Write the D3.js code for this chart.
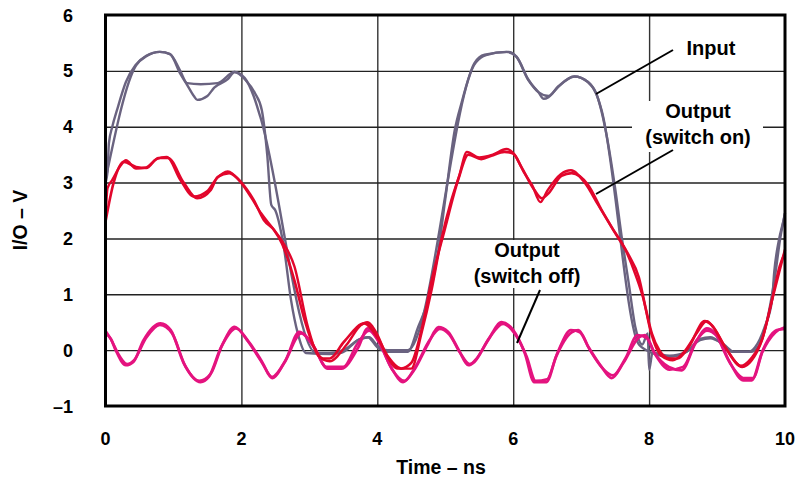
<!DOCTYPE html>
<html>
<head>
<meta charset="utf-8">
<script src="https://cdn.jsdelivr.net/npm/d3@7"></script>
<style>
  body { margin: 0; background: #fff; }
  svg { display: block; font-family: "Liberation Sans", Arial, sans-serif; font-weight: bold; }
</style>
</head>
<body>
<svg width="798" height="479"></svg>
<script>
// [time ns, volts], two captures per signal
const inputA = [[0,3.05],[0.45,5.1],[0.6,5.26],[0.8,5.34],[0.95,5.3],[1.1,5.0],[1.2,4.78],[1.4,4.76],[1.65,4.78],[1.9,4.98],[2.05,4.87],[2.18,4.55],[2.28,4.17],[3.1,-0.05],[3.3,-0.05],[3.5,0.0],[3.75,0.2],[3.88,0.23],[4.0,0.08],[4.15,0.0],[4.45,0.0],[5.45,5.15],[5.6,5.28],[5.9,5.34],[6.05,5.25],[6.22,4.85],[6.37,4.62],[6.52,4.55],[6.66,4.72],[6.9,4.9],[7.1,4.8],[7.22,4.6],[7.3,4.3],[7.85,0.1],[8.05,-0.05],[8.3,-0.12],[8.55,-0.03],[8.75,0.18],[8.9,0.21],[9.1,0.1],[9.25,-0.03],[9.5,-0.03],[9.6,0.05],[9.72,0.45],[9.85,1.3],[9.93,2.0],[10,2.45]];
const inputB = [[0,3.0],[0.03,3.2],[0.05,3.7],[0.1,4.0],[0.17,4.3],[0.3,4.8],[0.44,5.1],[0.6,5.27],[0.8,5.34],[0.95,5.3],[1.1,4.95],[1.2,4.75],[1.3,4.55],[1.35,4.48],[1.5,4.55],[1.6,4.7],[1.8,4.85],[1.9,4.98],[2.05,4.85],[2.2,4.6],[2.3,4.3],[2.38,3.5],[2.44,2.6],[2.5,2.5],[2.63,1.8],[2.73,0.9],[2.83,0.3],[2.95,-0.05],[3.3,-0.07],[3.47,-0.05],[3.72,0.18],[3.86,0.23],[4.0,0.05],[4.15,-0.03],[4.45,-0.03],[4.6,0.41],[4.75,0.9],[4.9,1.8],[5.0,2.7],[5.14,3.94],[5.24,4.43],[5.43,5.14],[5.58,5.29],[5.93,5.34],[6.05,5.25],[6.22,4.84],[6.37,4.62],[6.45,4.5],[6.52,4.53],[6.66,4.71],[6.9,4.9],[7.1,4.8],[7.25,4.5],[7.35,4.0],[7.5,2.9],[7.6,2.0],[7.7,1.2],[7.8,0.4],[7.9,0.1],[7.98,0.3],[8.0,-0.35],[8.05,-0.05],[8.3,-0.1],[8.55,-0.03],[8.75,0.2],[8.9,0.23],[9.07,0.12],[9.22,-0.03],[9.47,-0.03],[9.56,0.05],[9.7,0.41],[9.81,0.9],[9.84,1.38],[9.91,1.97],[9.98,2.33],[10,2.45]];

const onA = [[0,2.3],[0.12,3.0],[0.27,3.37],[0.45,3.28],[0.6,3.26],[0.78,3.44],[0.92,3.44],[1.15,3.0],[1.35,2.72],[1.55,2.87],[1.65,3.1],[1.82,3.17],[2.0,3.0],[2.18,2.69],[2.33,2.33],[2.48,2.15],[2.6,1.9],[2.78,1.25],[2.93,0.54],[3.07,0.05],[3.2,-0.15],[3.3,-0.15],[3.51,0.15],[3.81,0.48],[4.0,0.23],[4.16,-0.12],[4.35,-0.33],[4.5,-0.23],[4.65,0.36],[4.8,1.25],[4.99,2.15],[5.19,3.05],[5.34,3.5],[5.53,3.42],[5.68,3.48],[5.87,3.55],[6.0,3.52],[6.12,3.28],[6.31,2.87],[6.42,2.72],[6.52,2.81],[6.71,3.12],[6.86,3.17],[7.1,2.96],[7.3,2.51],[7.5,2.1],[7.7,1.7],[7.85,1.3],[7.95,0.75],[8.04,0.3],[8.15,0.0],[8.3,-0.15],[8.42,-0.15],[8.58,0.05],[8.82,0.52],[8.92,0.45],[9.12,0.05],[9.37,-0.3],[9.51,-0.18],[9.66,0.18],[9.81,0.9],[9.91,1.38],[10,1.8]];
const onB = [[0,2.35],[0.03,2.9],[0.1,3.05],[0.22,3.3],[0.3,3.4],[0.45,3.25],[0.6,3.27],[0.75,3.42],[0.9,3.46],[1.1,3.05],[1.3,2.75],[1.5,2.85],[1.62,3.05],[1.8,3.2],[1.98,3.02],[2.15,2.72],[2.29,2.45],[2.45,2.2],[2.6,1.95],[2.78,1.5],[2.98,0.41],[3.13,-0.1],[3.3,-0.2],[3.55,0.1],[3.76,0.45],[3.85,0.5],[4.0,0.28],[4.12,-0.05],[4.3,-0.33],[4.5,-0.33],[4.65,0.3],[4.8,1.08],[4.94,1.97],[5.09,2.69],[5.2,3.1],[5.32,3.55],[5.5,3.45],[5.7,3.5],[5.9,3.6],[6.02,3.5],[6.15,3.2],[6.28,2.95],[6.4,2.65],[6.5,2.85],[6.7,3.15],[6.85,3.22],[7.05,3.0],[7.25,2.6],[7.45,2.2],[7.65,1.8],[7.8,1.35],[7.92,0.9],[8.02,0.35],[8.18,-0.1],[8.35,-0.18],[8.5,-0.05],[8.7,0.3],[8.85,0.52],[8.95,0.4],[9.15,0.0],[9.35,-0.28],[9.5,-0.15],[9.68,0.25],[9.8,0.85],[9.92,1.5],[10,1.75]];

const offA = [[0,0.3],[0.08,0.2],[0.15,0.0],[0.3,-0.27],[0.41,-0.21],[0.56,0.18],[0.81,0.48],[0.96,0.36],[1.15,-0.23],[1.4,-0.57],[1.52,-0.48],[1.7,0.05],[1.92,0.39],[2.09,0.18],[2.29,-0.18],[2.46,-0.5],[2.63,-0.23],[2.88,0.3],[3.07,0.05],[3.27,-0.33],[3.47,-0.33],[3.72,0.05],[3.86,0.39],[4.0,0.21],[4.2,-0.3],[4.38,-0.57],[4.54,-0.36],[4.75,0.12],[4.9,0.41],[5.04,0.33],[5.2,0.0],[5.34,-0.27],[5.43,-0.21],[5.63,0.18],[5.83,0.5],[6.0,0.36],[6.17,-0.05],[6.31,-0.57],[6.49,-0.57],[6.63,-0.12],[6.86,0.32],[6.96,0.36],[7.11,0.05],[7.3,-0.3],[7.45,-0.5],[7.62,-0.23],[7.85,0.23],[7.94,0.27],[8.08,-0.05],[8.29,-0.3],[8.48,-0.36],[8.68,0.12],[8.85,0.39],[8.97,0.3],[9.17,-0.18],[9.39,-0.54],[9.51,-0.54],[9.66,-0.05],[9.86,0.32],[10,0.41]];
const offB = [[0,0.35],[0.1,0.15],[0.18,-0.05],[0.32,-0.25],[0.42,-0.18],[0.6,0.22],[0.8,0.45],[0.98,0.3],[1.18,-0.3],[1.38,-0.55],[1.55,-0.42],[1.72,0.1],[1.9,0.42],[2.1,0.15],[2.3,-0.22],[2.45,-0.48],[2.65,-0.18],[2.85,0.33],[3.05,0.1],[3.25,-0.3],[3.5,-0.3],[3.7,0.1],[3.88,0.35],[4.02,0.15],[4.22,-0.35],[4.4,-0.55],[4.56,-0.3],[4.77,0.18],[4.92,0.38],[5.06,0.28],[5.22,-0.05],[5.36,-0.25],[5.46,-0.15],[5.65,0.22],[5.85,0.47],[6.02,0.3],[6.2,-0.12],[6.33,-0.55],[6.5,-0.52],[6.65,-0.05],[6.85,0.36],[6.98,0.32],[7.13,0.0],[7.32,-0.33],[7.47,-0.45],[7.65,-0.15],[7.83,0.27],[7.96,0.22],[8.1,-0.1],[8.3,-0.35],[8.5,-0.3],[8.7,0.18],[8.85,0.35],[9.0,0.25],[9.2,-0.25],[9.4,-0.5],[9.53,-0.5],[9.68,0.02],[9.88,0.36],[10,0.38]];

const xTicks = [0, 2, 4, 6, 8, 10];
const yTicks = [-1, 0, 1, 2, 3, 4, 5, 6];

const svg = d3.select("svg");

const x = d3.scaleLinear().domain([0, 10]).range([105.5, 785]);
const y = d3.scaleLinear().domain([-1, 6]).range([406, 15]);

const plotLeft = x(0), plotRight = x(10), plotTop = y(6), plotBottom = y(-1);

// grid
svg.append("g")
    .attr("transform", `translate(0,${plotBottom})`)
    .call(d3.axisBottom(x).tickValues([2, 4, 6, 8]).tickSize(-(plotBottom - plotTop)).tickFormat(""))
    .call(g => g.select(".domain").remove())
    .call(g => g.selectAll("line").attr("stroke", "#333").attr("stroke-width", 1.4));

svg.append("g")
    .attr("transform", `translate(${plotLeft},0)`)
    .call(d3.axisLeft(y).tickValues([0, 1, 2, 3, 4, 5]).tickSize(-(plotRight - plotLeft)).tickFormat(""))
    .call(g => g.select(".domain").remove())
    .call(g => g.selectAll("line").attr("stroke", "#222").attr("stroke-width", 1.4));

// white boxes behind the callout text
svg.append("rect").attr("x", 632).attr("y", 101).attr("width", 131).attr("height", 51).attr("fill", "#fff");
svg.append("rect").attr("x", 470).attr("y", 240).attr("width", 116).attr("height", 48).attr("fill", "#fff");

const line = d3.line()
    .curve(d3.curveMonotoneX)
    .x(d => x(d[0]))
    .y(d => y(d[1]));

const traces = [
  { data: inputA, color: "#6a6380", w: 2.4 },
  { data: inputB, color: "#6a6380", w: 2.4 },
  { data: offA, color: "#e4137f", w: 2.8 },
  { data: offB, color: "#e4137f", w: 2.6 },
  { data: onA, color: "#e2062c", w: 2.6 },
  { data: onB, color: "#e2062c", w: 2.4 }
];

svg.append("g")
    .selectAll("path")
    .data(traces)
    .enter().append("path")
    .attr("d", d => line(d.data))
    .attr("fill", "none")
    .attr("stroke", d => d.color)
    .attr("stroke-width", d => d.w)
    .attr("stroke-linejoin", "round");

// frame
svg.append("rect")
    .attr("x", plotLeft).attr("y", plotTop)
    .attr("width", plotRight - plotLeft).attr("height", plotBottom - plotTop)
    .attr("fill", "none").attr("stroke", "#000").attr("stroke-width", 3);

// tick labels
svg.append("g")
    .selectAll("text")
    .data(xTicks)
    .enter().append("text")
    .attr("x", d => x(d))
    .attr("y", 445)
    .attr("text-anchor", "middle")
    .attr("font-size", 18)
    .text(d => d);

svg.append("g")
    .selectAll("text")
    .data(yTicks)
    .enter().append("text")
    .attr("x", 73)
    .attr("y", d => y(d) + 6.5)
    .attr("text-anchor", "end")
    .attr("font-size", 18)
    .text(d => d < 0 ? "\u2013" + Math.abs(d) : d);

// axis titles
svg.append("text")
    .attr("x", 441).attr("y", 474)
    .attr("text-anchor", "middle")
    .attr("font-size", 19.5)
    .text("Time \u2013 ns");

svg.append("text")
    .attr("transform", "translate(27,220) rotate(-90)")
    .attr("text-anchor", "middle")
    .attr("font-size", 19.5)
    .text("I/O \u2013 V");

// callouts
const callouts = [
  { lines: ["Input"], cx: 711, y0: 55, from: [673, 50], to: [596, 94] },
  { lines: ["Output", "(switch on)"], cx: 698, y0: 118, from: [673, 150], to: [596, 194] },
  { lines: ["Output", "(switch off)"], cx: 527, y0: 257, from: [540, 290], to: [517, 343] }
];

callouts.forEach(c => {
  c.lines.forEach((t, i) => {
    svg.append("text")
        .attr("x", c.cx).attr("y", c.y0 + i * 26)
        .attr("text-anchor", "middle")
        .attr("font-size", 20)
        .text(t);
  });
  svg.append("line")
      .attr("x1", c.from[0]).attr("y1", c.from[1])
      .attr("x2", c.to[0]).attr("y2", c.to[1])
      .attr("stroke", "#000").attr("stroke-width", 2);
});
</script>
</body>
</html>
